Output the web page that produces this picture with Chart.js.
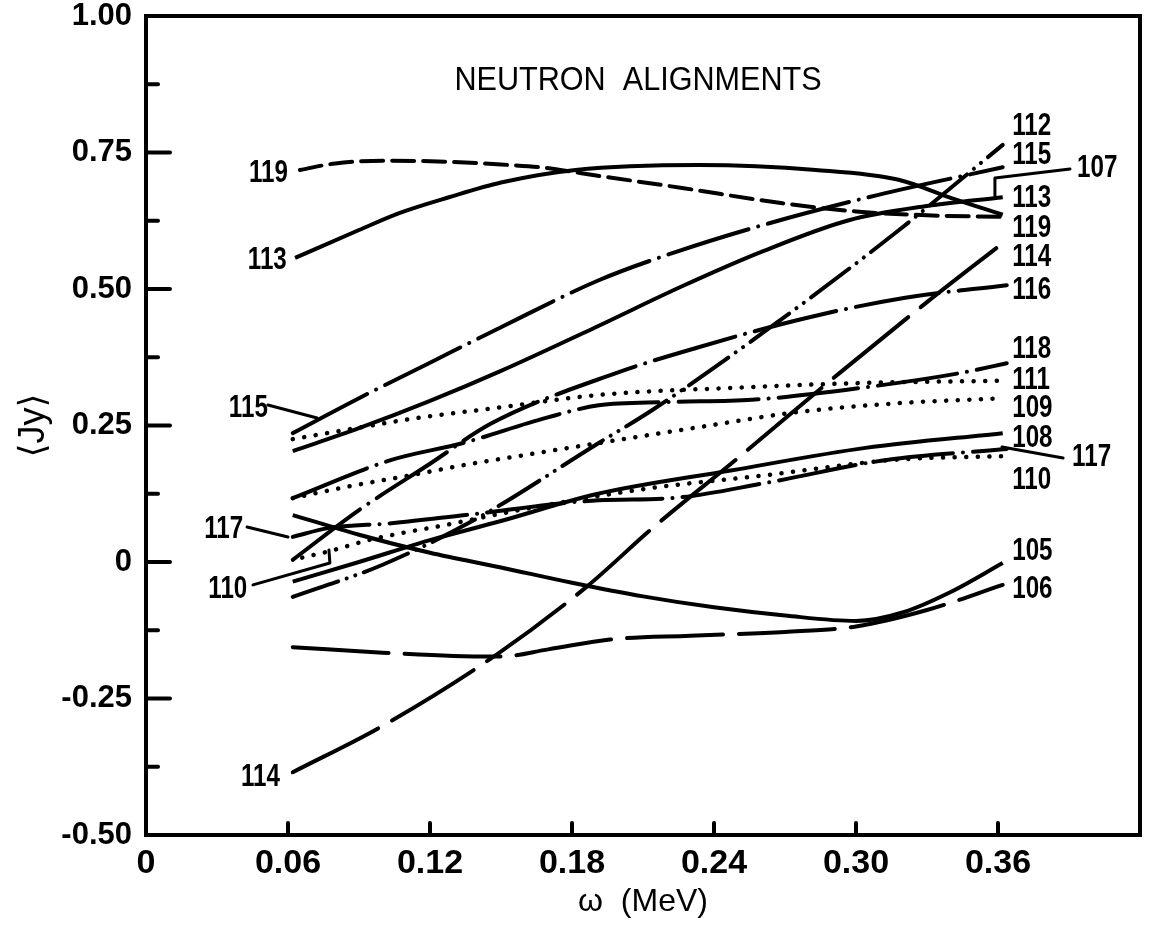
<!DOCTYPE html>
<html><head><meta charset="utf-8">
<script src="https://cdn.jsdelivr.net/npm/chart.js@4.4.1/dist/chart.umd.min.js"></script>
<style>html,body{margin:0;padding:0;background:#fff}#wrap{width:1154px;height:925px;position:relative}</style>
</head><body><div id="wrap"><canvas id="c"></canvas></div>
<script>
// ---- axis ticks ----
const xTickValues = [0, 0.06, 0.12, 0.18, 0.24, 0.30, 0.36];
const xTickLabels = ['0', '0.06', '0.12', '0.18', '0.24', '0.30', '0.36'];
const yTickValues = [-0.5, -0.25, 0, 0.25, 0.5, 0.75, 1.0];
const yTickLabels = ['-0.50', '-0.25', '0', '0.25', '0.50', '0.75', '1.00'];
const yMinorTicks = [-0.375, -0.125, 0.125, 0.375, 0.625, 0.875];

// ---- curves (omega in MeV, <Jy>) ----
const w105 = [0.062,0.09,0.12,0.15,0.18,0.21,0.24,0.27,0.30,0.32,0.34,0.362];
const j105 = [0.086,0.05,0.017,-0.01,-0.038,-0.063,-0.083,-0.098,-0.108,-0.092,-0.055,-0.002];
const w106 = [0.062,0.10,0.13,0.15,0.17,0.196,0.23,0.27,0.30,0.33,0.362];
const j106 = [-0.156,-0.166,-0.172,-0.173,-0.16,-0.142,-0.135,-0.128,-0.118,-0.088,-0.042];
const w107 = [0.062,0.09,0.12,0.15,0.19,0.2265,0.26,0.297,0.33,0.362];
const j107 = [0.203,0.245,0.295,0.35,0.43,0.505,0.568,0.626,0.652,0.668];
const w108 = [0.062,0.09,0.12,0.15,0.19,0.2477,0.304,0.362];
const j108 = [-0.036,0.0,0.04,0.075,0.124,0.168,0.209,0.236];
const w109 = [0.062,0.084,0.112,0.135,0.163,0.19,0.2337,0.276,0.3185,0.362];
const j109 = [0.117,0.137,0.159,0.178,0.198,0.217,0.247,0.275,0.291,0.30];
const w110 = [0.066,0.0759,0.094,0.108,0.122,0.16,0.2127,0.262,0.3157,0.362];
const j110 = [0.008,0.018,0.04,0.053,0.064,0.097,0.135,0.159,0.187,0.194];
const w111 = [0.062,0.0885,0.115,0.1476,0.1913,0.2477,0.304,0.362];
const j111 = [0.225,0.245,0.264,0.282,0.306,0.319,0.328,0.332];
const w112 = [0.062,0.10,0.14,0.1913,0.2138,0.2604,0.317,0.362];
const j112 = [-0.064,-0.005,0.08,0.218,0.278,0.419,0.604,0.764];
const w113 = [0.063,0.09,0.107,0.128,0.15,0.1815,0.2337,0.283,0.318,0.34,0.362];
const j113 = [0.557,0.608,0.639,0.668,0.695,0.718,0.727,0.718,0.70,0.667,0.636];
const w114 = [0.062,0.10,0.148,0.186,0.214,0.25,0.293,0.33,0.362];
const j114 = [-0.385,-0.30,-0.17,-0.046,0.062,0.19,0.346,0.476,0.584];
const w115 = [0.062,0.09,0.12,0.15,0.1913,0.224,0.263,0.309,0.362];
const j115 = [0.236,0.30,0.365,0.43,0.516,0.568,0.62,0.672,0.723];
const w116 = [0.062,0.09,0.12,0.146,0.1986,0.2324,0.279,0.3208,0.3637];
const j116 = [0.004,0.095,0.18,0.254,0.346,0.392,0.447,0.484,0.507];
const w117 = [0.062,0.077,0.1037,0.135,0.1913,0.222,0.262,0.313,0.3637];
const j117 = [0.046,0.062,0.071,0.086,0.113,0.117,0.145,0.187,0.207];
const w118 = [0.062,0.1037,0.134,0.169,0.1913,0.22,0.256,0.304,0.344,0.3637];
const j118 = [0.117,0.187,0.218,0.264,0.287,0.293,0.297,0.32,0.346,0.364];
const w119 = [0.065,0.08,0.10,0.128,0.15,0.169,0.184,0.2265,0.269,0.30,0.33,0.362];
const j119 = [0.718,0.73,0.735,0.733,0.728,0.722,0.712,0.685,0.657,0.642,0.635,0.632];

// ---- curve labels ----
const rightLabelText = ['112','115','107','113','119','114','116','118','111','109','108','117','110','105','106'];
const rightLabelW    = [0.366,0.366,0.3934,0.366,0.366,0.366,0.366,0.366,0.366,0.366,0.366,0.3913,0.366,0.366,0.366];
const rightLabelJ    = [0.7985,0.745,0.7216,0.665,0.61,0.557,0.498,0.39,0.333,0.282,0.227,0.192,0.15,0.02,-0.051];
const leftLabelText = ['119','113','115','117','110','114'];
const leftLabelW    = [0.0600,0.0595,0.0515,0.0411,0.0428,0.0566];
const leftLabelJ    = [0.711,0.553,0.282,0.0604,-0.051,-0.394];
// leader lines (label -> curve)
const leaderW = [[0.0515,0.0723],[0.0427,0.060],[0.0452,0.0777,0.0773],[0.3904,0.3587,0.3587],[0.3617,0.3875]];
const leaderJ = [[0.2875,0.2637],[0.064,0.0458],[-0.042,-0.0018,0.022],[0.7198,0.7033,0.6685],[0.2106,0.1905]];

const SOLID = [];
const DASH = [22, 9];
const LONGDASH = [96, 16];
const DASHDOT = [84, 10, 0.1, 10];
const DASHDOTDOT = [48, 9, 0.1, 9, 0.1, 9];
const DOT = [0.1, 11.5];
const FONT = "'Liberation Sans', Arial, sans-serif";

function series(name, w, j, dash, width){
  return {label:name, data:w.map((v,i)=>({x:v,y:j[i]})), borderColor:'#000', borderWidth:width||4,
    borderDash:dash, borderCapStyle: dash.length? 'round':'butt', pointRadius:0, fill:false,
    cubicInterpolationMode:'monotone'};
}
const datasets = [
  series('105',w105,j105,SOLID),
  series('106',w106,j106,LONGDASH),
  series('107',w107,j107,SOLID),
  series('108',w108,j108,SOLID),
  series('109',w109,j109,DOT,4.5),
  series('110',w110,j110,DOT,4.5),
  series('111',w111,j111,DOT,4.5),
  series('112',w112,j112,DASHDOTDOT),
  series('113',w113,j113,SOLID),
  series('114',w114,j114,LONGDASH),
  series('115',w115,j115,DASHDOT),
  series('116',w116,j116,DASHDOT),
  series('117',w117,j117,[78,10,0.1,10]),
  series('118',w118,j118,[80,10,0.1,10]),
  series('119',w119,j119,DASH),
];

const deco = {
  id:'deco',
  afterDraw(chart){
    const {ctx, chartArea:a, scales:{x, y}} = chart;
    ctx.save();
    ctx.strokeStyle='#000'; ctx.fillStyle='#000';
    // frame
    ctx.lineWidth=4; ctx.lineJoin='miter';
    ctx.strokeRect(a.left, a.top, a.right-a.left, a.bottom-a.top);
    // inward ticks
    ctx.lineWidth=4; ctx.lineCap='round';
    yTickValues.forEach(v=>{ if(v<=-0.5||v>=1) return; const py=y.getPixelForValue(v);
      ctx.beginPath(); ctx.moveTo(a.left,py); ctx.lineTo(a.left+24,py); ctx.stroke(); });
    yMinorTicks.forEach(v=>{ const py=y.getPixelForValue(v);
      ctx.beginPath(); ctx.moveTo(a.left,py); ctx.lineTo(a.left+12,py); ctx.stroke(); });
    xTickValues.forEach(v=>{ if(v<=0) return; const px=x.getPixelForValue(v);
      ctx.beginPath(); ctx.moveTo(px,a.bottom); ctx.lineTo(px,a.bottom-12); ctx.stroke(); });
    // leaders
    ctx.lineWidth=3; ctx.lineCap='round'; ctx.lineJoin='round';
    leaderW.forEach((ws,k)=>{ ctx.beginPath();
      ws.forEach((wv,i)=>{ const px=x.getPixelForValue(wv), py=y.getPixelForValue(leaderJ[k][i]);
        if(i===0) ctx.moveTo(px,py); else ctx.lineTo(px,py); });
      ctx.stroke(); });
    // labels (condensed)
    ctx.font = "bold 31px " + FONT;
    ctx.textBaseline='middle';
    function cond(text, px, py, align, sx){
      ctx.save(); ctx.translate(px,py); ctx.scale(sx,1); ctx.textAlign=align; ctx.fillText(text,0,0); ctx.restore();
    }
    rightLabelText.forEach((t,i)=>cond(t, x.getPixelForValue(rightLabelW[i]), y.getPixelForValue(rightLabelJ[i]), 'left', 0.78));
    leftLabelText.forEach((t,i)=>cond(t, x.getPixelForValue(leftLabelW[i]), y.getPixelForValue(leftLabelJ[i]), 'right', 0.78));
    // in-plot title
    ctx.font = "34px " + FONT;
    cond('NEUTRON  ALIGNMENTS', x.getPixelForValue(0.2079), y.getPixelForValue(0.881), 'center', 0.9);
    ctx.restore();
  }
};

new Chart(document.getElementById('c'), {
  type:'line',
  data:{datasets},
  options:{
    responsive:true, maintainAspectRatio:false, animation:false,
    layout:{padding:{top:16,right:14,left:0,bottom:0}},
    plugins:{legend:{display:false}, tooltip:{enabled:false}, title:{display:false}},
    scales:{
      x:{type:'linear', min:0, max:0.42,
        afterBuildTicks: s=>{ s.ticks = xTickValues.map(v=>({value:v})); },
        afterFit: s=>{ s.height = 90; s.paddingLeft = 0; s.paddingRight = 0; },
        grid:{display:false, drawTicks:false}, border:{display:false},
        ticks:{autoSkip:false, maxRotation:0, padding:8, color:'#000',
          font:{family:FONT, size:34, weight:'bold'},
          callback:(v)=>{ const i = xTickValues.findIndex(t=>Math.abs(t-v)<1e-9); return i>=0? xTickLabels[i]:''; }},
        title:{display:true, text:'ω  (MeV)', color:'#000', padding:{top:0,bottom:4},
          font:{family:FONT, size:32}}
      },
      y:{type:'linear', min:-0.5, max:1.0,
        afterBuildTicks: s=>{ s.ticks = yTickValues.map(v=>({value:v})); },
        afterFit: s=>{ s.width = 146; s.paddingTop = 0; s.paddingBottom = 0; },
        grid:{display:false, drawTicks:false}, border:{display:false},
        ticks:{padding:14, color:'#000',
          font:{family:FONT, size:31, weight:'bold'},
          callback:(v)=>{ const i = yTickValues.findIndex(t=>Math.abs(t-v)<1e-9); return i>=0? yTickLabels[i]:''; }},
        title:{display:true, text:'⟨Jy⟩', color:'#000', padding:{top:12,bottom:0},
          font:{family:"'Liberation Sans', 'DejaVu Sans', sans-serif", size:36}}
      }
    }
  },
  plugins:[deco]
});
</script></body></html>
